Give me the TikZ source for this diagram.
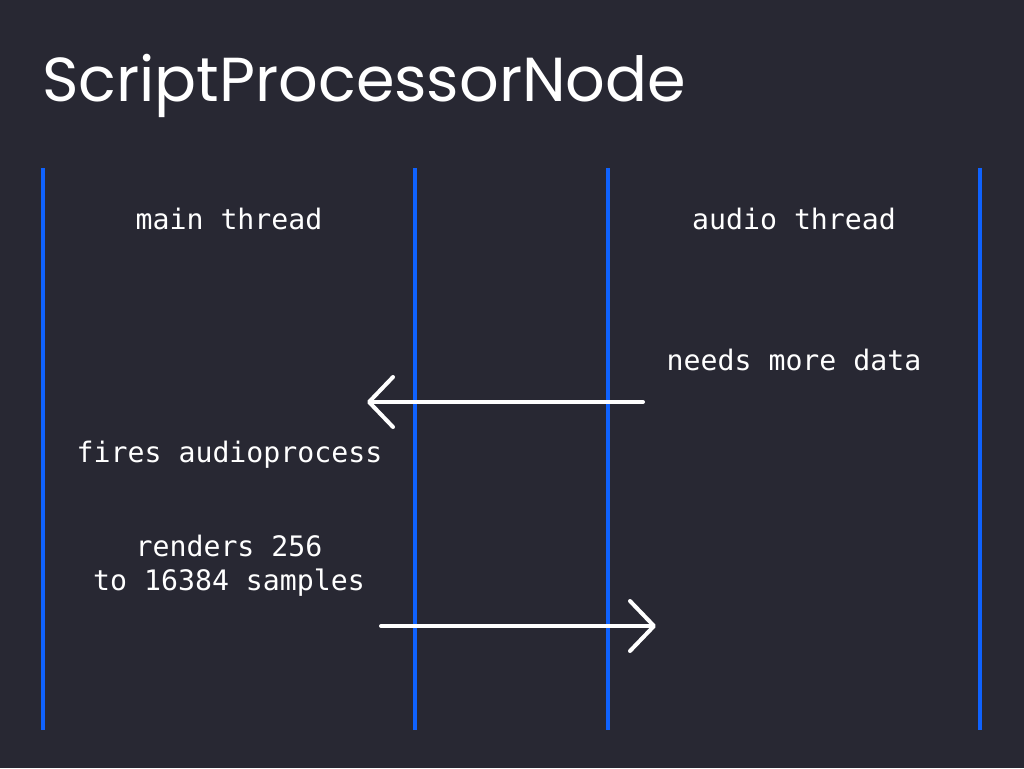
\documentclass[tikz,border=0pt]{standalone}
\usepackage{fontspec}
\setmainfont{Poppins}
\newfontfamily\codefont{DejaVu Sans Mono}
\usetikzlibrary{arrows.meta}
\definecolor{bg}{HTML}{282833}
\definecolor{laneblue}{HTML}{0F62FE}
\tikzset{
  lane/.style={draw=laneblue, line width=4pt},
  msg/.style={draw=white, line width=4pt, line cap=round, -{Straight Barb[length=24pt,width=50pt,round]}},
  label/.style={text=white, font=\codefont\fontsize{28.2}{34}\selectfont, align=center, inner sep=0pt},
  titletext/.style={text=white, anchor=base west, inner sep=0pt}
}
\begin{document}
\begin{tikzpicture}[x=1pt,y=-1pt]
\fill[bg] (0,0) rectangle (1024,768);
\useasboundingbox (0,0) rectangle (1024,768);
\node[titletext] (title) at (42,101) {\resizebox{644pt}{!}{\fontsize{60}{60}\selectfont ScriptProcessorNode}};
\foreach \n/\x in {a/43,b/415,c/608,d/980}{
  \coordinate (\n top) at (\x,168);
  \coordinate (\n bot) at (\x,730);
  \draw[lane] (\n top) -- (\n bot);
}
\node[label] (main) at (229,219) {main thread};
\node[label] (audio) at (794,219) {audio thread};
\node[label] (needs) at (794,360) {needs more data};
\node[label] (fires) at (229.5,455) {fires audioprocess};
\node[label] (renders) at (229,566) {renders 256\\to 16384 samples};
\coordinate (m1s) at (643,402);
\coordinate (m1e) at (367,402);
\coordinate (m2s) at (381,626);
\coordinate (m2e) at (656,626);
\draw[msg] (m1s) -- (m1e);
\draw[msg] (m2s) -- (m2e);
\end{tikzpicture}
\end{document}
